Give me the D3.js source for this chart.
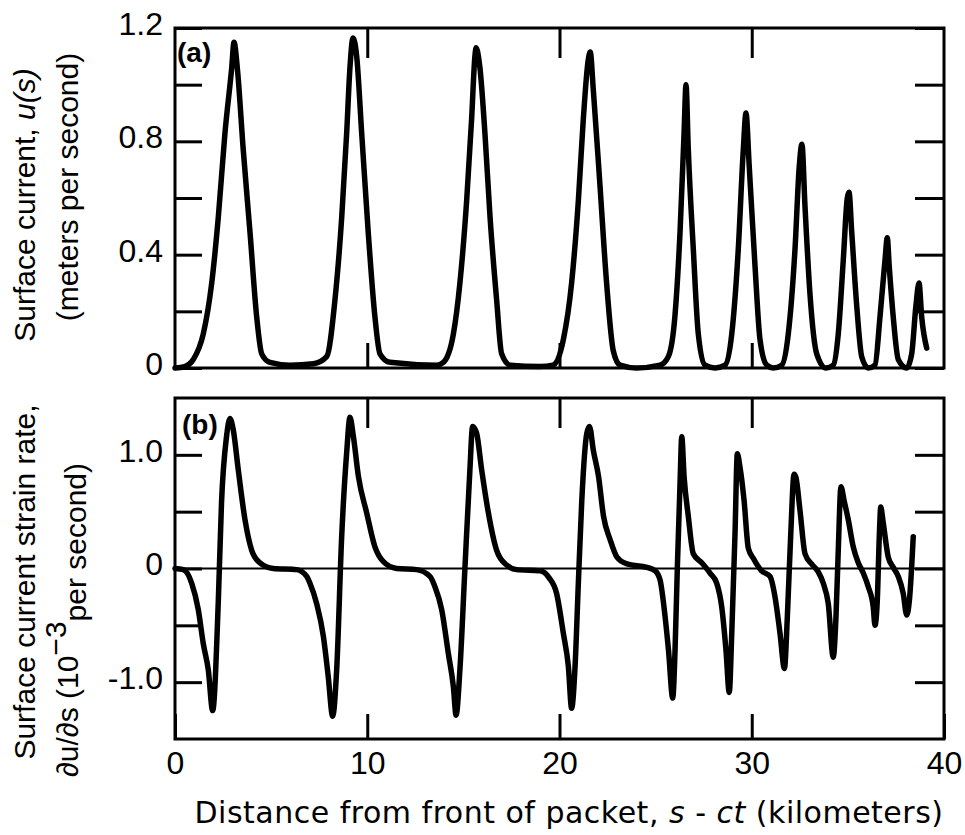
<!DOCTYPE html>
<html>
<head>
<meta charset="utf-8">
<script src="https://cdn.jsdelivr.net/npm/d3@7"></script>
<style>
  html, body { margin: 0; padding: 0; background: #fff; }
  svg { display: block; font-family: "Liberation Sans", Arial, sans-serif; }
</style>
</head>
<body>
<div id="chart"></div>
<script>
// distance from front of packet (km) and surface current u(s) (m/s), panel (a)
const distanceA = [0, 0.5, 0.95, 1.47, 1.91, 2.25, 2.6, 2.95, 3.07, 3.24, 3.55, 3.9, 4.25, 4.51, 4.94, 5.98, 7.2,
  7.89, 8.32, 8.67, 8.93, 9.1, 9.26, 9.45, 9.71, 10.05, 10.4, 10.66, 11.18, 13.6,
  13.96, 14.48, 14.82, 15.17, 15.43, 15.6, 15.66, 15.86, 16.12, 16.39, 16.73, 16.99, 17.43, 19.0,
  19.66, 20.2, 20.63, 20.98, 21.24, 21.5, 21.6, 21.76, 22.1, 22.45, 22.8, 23.15, 24.0, 25.23,
  25.66, 26.0, 26.27, 26.48, 26.58, 26.7, 26.96, 27.22, 27.57, 28.09,
  28.61, 28.96, 29.3, 29.56, 29.7, 29.87, 30.17, 30.43, 30.78, 31.12,
  31.56, 31.9, 32.25, 32.47, 32.61, 32.77, 33.03, 33.38, 33.86,
  34.24, 34.5, 34.76, 34.97, 35.06, 35.2, 35.46, 35.72, 36.06,
  36.41, 36.67, 36.93, 37.05, 37.15, 37.36, 37.62, 38.06,
  38.32, 38.54, 38.7, 38.84, 39.1];
const currentA = [0, 0.005, 0.03, 0.12, 0.30, 0.53, 0.83, 1.06, 1.15, 1.06, 0.77, 0.48, 0.18, 0.05, 0.02, 0.01, 0.015,
  0.04, 0.24, 0.53, 0.83, 1.06, 1.165, 1.10, 0.83, 0.48, 0.18, 0.05, 0.02, 0.01,
  0.02, 0.12, 0.30, 0.59, 0.88, 1.10, 1.13, 1.06, 0.83, 0.53, 0.24, 0.05, 0.01, 0.005,
  0.01, 0.10, 0.30, 0.59, 0.88, 1.09, 1.115, 0.98, 0.65, 0.30, 0.06, 0.01, 0.0, 0.01,
  0.04, 0.18, 0.48, 0.83, 1.0, 0.77, 0.42, 0.12, 0.01, 0.0,
  0.01, 0.12, 0.42, 0.77, 0.90, 0.71, 0.36, 0.10, 0.01, 0.0,
  0.01, 0.12, 0.42, 0.71, 0.79, 0.57, 0.26, 0.05, 0.0,
  0.01, 0.12, 0.38, 0.60, 0.62, 0.48, 0.22, 0.04, 0.0,
  0.01, 0.18, 0.38, 0.46, 0.36, 0.18, 0.03, 0.0,
  0.05, 0.22, 0.30, 0.18, 0.07];

// panel (b): strain rate du/ds (1e-3 per second)
const distanceB = [0, 0.43, 0.87, 1.21, 1.47, 1.73, 1.96, 2.25, 2.42, 2.68, 2.86, 3.03, 3.29, 3.64, 3.99, 4.42, 5.12, 6.33, 6.85,
  7.02, 7.37, 7.72, 7.97, 8.2, 8.41, 8.67, 8.93, 9.1, 9.28, 9.54, 9.97, 10.4, 10.84, 11.53, 12.57, 13.26,
  13.52, 13.87, 14.22, 14.48, 14.62, 14.82, 15.08, 15.34, 15.48, 15.69, 15.95, 16.3, 16.73, 17.25, 17.77, 18.99,
  19.45, 19.85, 20.2, 20.46, 20.63, 20.81, 20.98, 21.16, 21.42, 21.56, 21.76, 22.03, 22.29, 22.64, 22.99, 23.51, 24.55, 24.98,
  25.23, 25.49, 25.67, 25.89, 26.01, 26.13, 26.27, 26.36, 26.48, 26.7, 26.96, 27.4, 27.83,
  28.18, 28.44, 28.66, 28.83, 28.96, 29.13, 29.25, 29.39, 29.6, 29.82, 30.08, 30.51,
  30.95, 31.21, 31.47, 31.7, 31.85, 32.03, 32.2, 32.3, 32.51, 32.77, 33.11, 33.46,
  33.72, 33.98, 34.24, 34.38, 34.5, 34.64, 34.8, 35.02, 35.28, 35.54, 35.8,
  36.06, 36.32, 36.41, 36.53, 36.64, 36.71, 36.84, 37.1, 37.36, 37.62,
  37.88, 38.06, 38.2, 38.32, 38.4];
const strainB = [0, -0.01, -0.13, -0.36, -0.66, -0.89, -1.25, -0.3, 0.58, 1.16, 1.32, 1.22, 0.87, 0.43, 0.16, 0.05, 0.0, -0.01, -0.07,
  -0.13, -0.31, -0.6, -0.95, -1.3, -0.89, 0.28, 1.02, 1.33, 1.16, 0.81, 0.49, 0.19, 0.06, 0.0, -0.01, -0.07,
  -0.16, -0.36, -0.75, -1.04, -1.29, -0.89, 0.0, 0.87, 1.25, 1.19, 0.87, 0.49, 0.16, 0.03, -0.01, -0.02,
  -0.08, -0.22, -0.57, -0.86, -1.23, -0.86, -0.13, 0.60, 1.19, 1.25, 1.04, 0.81, 0.46, 0.25, 0.10, 0.04, 0.01, -0.02,
  -0.10, -0.42, -0.72, -1.14, -0.72, 0.01, 0.75, 1.16, 0.81, 0.46, 0.13, 0.05, -0.04,
  -0.13, -0.34, -0.72, -1.09, -0.57, 0.31, 1.01, 0.89, 0.60, 0.18, 0.09, -0.02,
  -0.07, -0.25, -0.57, -0.88, -0.43, 0.31, 0.83, 0.80, 0.51, 0.13, 0.04, -0.03,
  -0.13, -0.31, -0.78, -0.43, 0.16, 0.72, 0.60, 0.43, 0.19, 0.05, -0.04,
  -0.16, -0.34, -0.50, -0.28, 0.31, 0.54, 0.40, 0.10, 0.01, -0.07,
  -0.22, -0.41, -0.28, 0.02, 0.28];

const xTicks = [0, 10, 20, 30, 40];
const yTicksA = [0, 0.2, 0.4, 0.6, 0.8, 1.0, 1.2];
const yLabelsA = [0, 0.4, 0.8, 1.2];
const yTicksB = [-1.0, -0.5, 0, 0.5, 1.0];
const yLabelsB = [-1.0, 0, 1.0];

const width = 965, height = 835;
const left = 175, right = 944;
const titleFont = "'DejaVu Sans', 'Liberation Sans', sans-serif";

const svg = d3.select("#chart").append("svg")
  .attr("width", width)
  .attr("height", height);

svg.append("rect").attr("width", width).attr("height", height).attr("fill", "#fff");

const x = d3.scaleLinear().domain([0, 40]).range([left, right]);
const yA = d3.scaleLinear().domain([0, 1.2]).range([368, 28]);
const yB = d3.scaleLinear().domain([-1.5, 1.5]).range([739, 398]);

function styleAxis(sel) {
  sel.select(".domain").remove();
  sel.selectAll("line").attr("stroke", "#000").attr("stroke-width", 3);
  sel.selectAll("text").attr("fill", "#000").attr("font-size", 32)
    .attr("font-family", "'Liberation Sans', Arial, sans-serif");
}

function panel(y, yTicks, yLabels, fmt, xLabels) {
  const [yBot, yTop] = y.range();

  // left axis, inward ticks, labels outside
  svg.append("g")
    .attr("transform", `translate(${left},0)`)
    .call(d3.axisLeft(y).tickValues(yTicks).tickSize(-27).tickPadding(12)
      .tickFormat((d) => (yLabels.some((v) => Math.abs(v - d) < 1e-9) ? fmt(d) : "")))
    .call(styleAxis)
    .call((g) => g.selectAll("text").attr("dy", "0.2em"));

  // right axis
  svg.append("g")
    .attr("transform", `translate(${right},0)`)
    .call(d3.axisRight(y).tickValues(yTicks).tickSize(-29).tickFormat(""))
    .call(styleAxis);

  // top ticks
  svg.append("g")
    .attr("transform", `translate(0,${yTop})`)
    .call(d3.axisTop(x).tickValues([10, 20, 30]).tickSize(-30).tickFormat(""))
    .call(styleAxis);

  // bottom ticks
  svg.append("g")
    .attr("transform", `translate(0,${yBot})`)
    .call(d3.axisBottom(x).tickValues(xLabels ? xTicks : [10, 20, 30]).tickSize(-25).tickPadding(12)
      .tickFormat(xLabels ? d3.format("d") : ""))
    .call(styleAxis);

  // frame
  svg.append("rect")
    .attr("x", left).attr("y", yTop)
    .attr("width", right - left).attr("height", yBot - yTop)
    .attr("fill", "none").attr("stroke", "#000").attr("stroke-width", 3);
}

panel(yA, yTicksA, yLabelsA, (d) => (d === 0 ? "0" : d3.format(".1f")(d)), false);
panel(yB, yTicksB, yLabelsB, (d) => (d === 0 ? "0" : d3.format(".1f")(d).replace("−", "-")), true);

// zero line in (b)
svg.append("line")
  .attr("x1", left).attr("x2", right)
  .attr("y1", yB(0)).attr("y2", yB(0))
  .attr("stroke", "#000").attr("stroke-width", 2);

// curves
const lineA = d3.line().x((d, i) => x(distanceA[i])).y((d) => yA(d)).curve(d3.curveMonotoneX);
const lineB = d3.line().x((d, i) => x(distanceB[i])).y((d) => yB(d)).curve(d3.curveMonotoneX);

svg.append("path")
  .attr("d", lineA(currentA))
  .attr("fill", "none").attr("stroke", "#000").attr("stroke-width", 5.5)
  .attr("stroke-linejoin", "round").attr("stroke-linecap", "round");

svg.append("path")
  .attr("d", lineB(strainB))
  .attr("fill", "none").attr("stroke", "#000").attr("stroke-width", 5.5)
  .attr("stroke-linejoin", "round").attr("stroke-linecap", "round");

// panel tags
svg.append("text").attr("x", 177).attr("y", 62)
  .attr("font-size", 28).attr("font-weight", "bold").text("(a)");
svg.append("text").attr("x", 182).attr("y", 434)
  .attr("font-size", 28).attr("font-weight", "bold").text("(b)");

// y titles
const tA1 = svg.append("text").attr("transform", "translate(35,205) rotate(-90)")
  .attr("text-anchor", "middle").attr("font-size", 30);
tA1.append("tspan").text("Surface current, ");
tA1.append("tspan").attr("font-style", "italic").text("u(s)");

svg.append("text").attr("transform", "translate(78,187) rotate(-90)")
  .attr("text-anchor", "middle").attr("font-size", 30)
  .text("(meters per second)");

svg.append("text").attr("transform", "translate(35,582) rotate(-90)")
  .attr("text-anchor", "middle").attr("font-size", 30)
  .text("Surface current strain rate,");

const tB2 = svg.append("text").attr("transform", "translate(78,620) rotate(-90)")
  .attr("text-anchor", "middle").attr("font-size", 30);
tB2.append("tspan").text("∂u/∂s (10");
tB2.append("tspan").attr("dy", -12).text("−3");
tB2.append("tspan").attr("dy", 20).text("per second)");

// x title
const tX = svg.append("text").attr("x", 569).attr("y", 823)
  .attr("text-anchor", "middle").attr("font-size", 30)
  .attr("letter-spacing", 0.5)
  .attr("font-family", titleFont);
tX.append("tspan").text("Distance from front of packet, ");
tX.append("tspan").attr("font-style", "italic").text("s");
tX.append("tspan").text(" - ");
tX.append("tspan").attr("font-style", "italic").text("ct");
tX.append("tspan").text(" (kilometers)");
</script>
</body>
</html>
